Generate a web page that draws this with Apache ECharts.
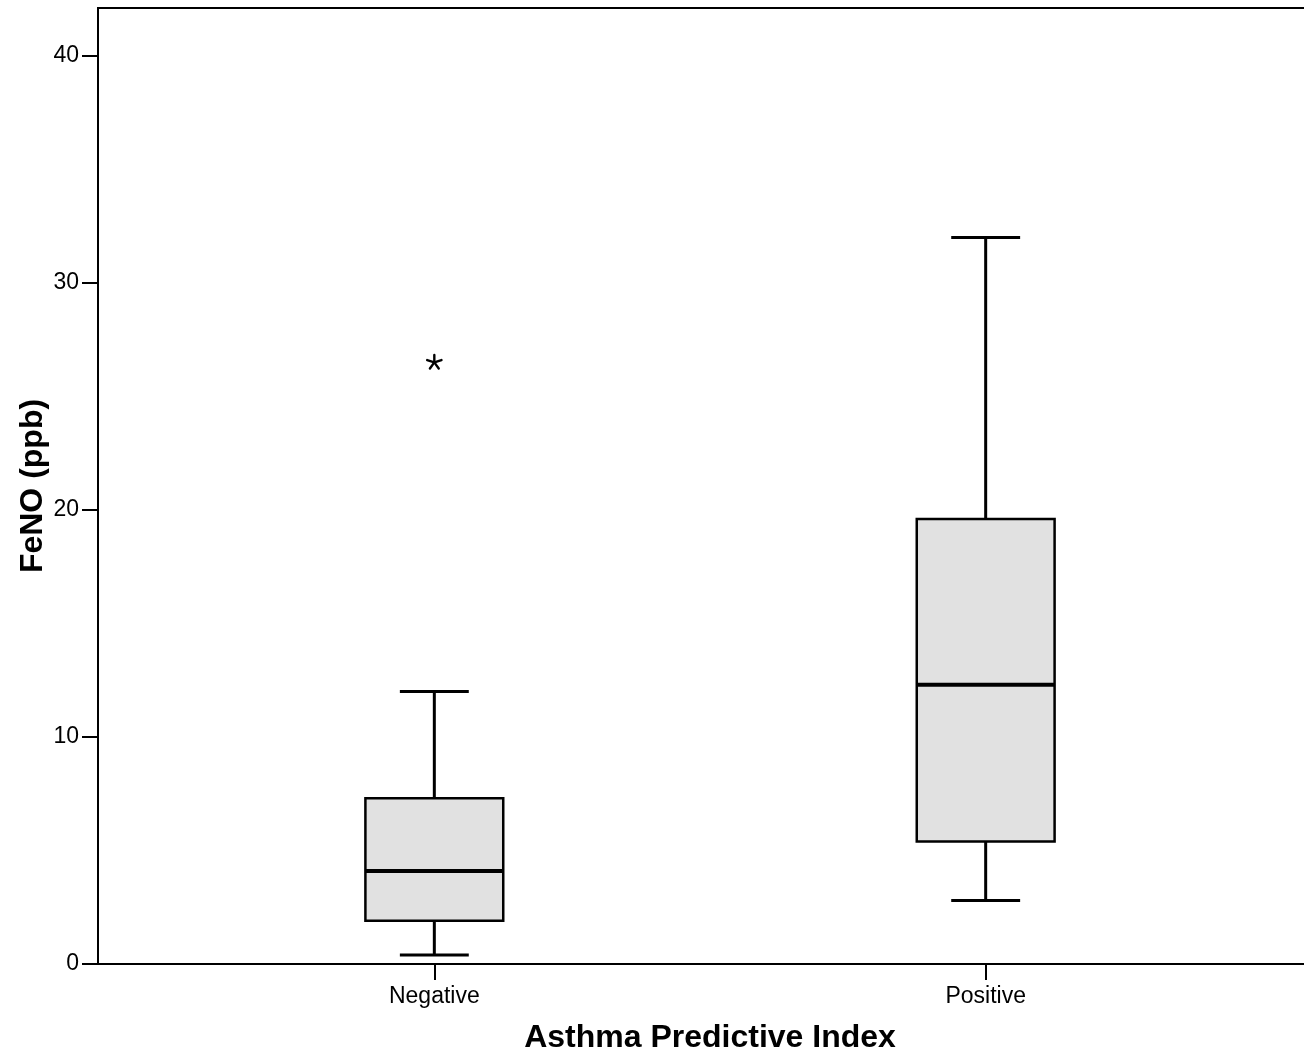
<!DOCTYPE html>
<html>
<head>
<meta charset="utf-8">
<title>FeNO by Asthma Predictive Index</title>
<script src="https://cdn.jsdelivr.net/npm/echarts@6/dist/echarts.min.js"></script>
<style>
  html, body { margin: 0; padding: 0; background: #ffffff; }
  #chart { width: 1304px; height: 1051px; }
</style>
</head>
<body>
<div id="chart"></div>
<script>
// Groups on the horizontal axis
const categories = ['Negative', 'Positive'];

// Box-and-whisker summary per group (FeNO, ppb)
const lowWhisker  = [0.4, 2.8];
const q1          = [1.9, 5.4];
const median      = [4.1, 12.3];
const q3          = [7.3, 19.6];
const highWhisker = [12.0, 32.0];

// Extreme values: [group index, value]
const extremes = [[0, 26.5]];

// Y-axis tick values
const yTicks = [0, 10, 20, 30, 40];

const boxData = categories.map((c, i) => [i, lowWhisker[i], q1[i], median[i], q3[i], highWhisker[i]]);

const BOX_W = 0.25;   // box width in axis units
const CAP_W = 0.125;  // whisker cap width in axis units
const FONT = 'Liberation Sans, Arial, sans-serif';

function renderBox(params, api) {
  const x = api.value(0);
  const pLow = api.coord([x, api.value(1)]);
  const pQ1 = api.coord([x, api.value(2)]);
  const pMed = api.coord([x, api.value(3)]);
  const pQ3 = api.coord([x, api.value(4)]);
  const pHigh = api.coord([x, api.value(5)]);
  const halfBox = api.size([BOX_W, 0])[0] / 2;
  const halfCap = api.size([CAP_W, 0])[0] / 2;
  const cx = pMed[0];
  const line = (x1, y1, x2, y2, w) => ({
    type: 'line',
    shape: { x1, y1, x2, y2 },
    style: { stroke: '#000', lineWidth: w }
  });
  return {
    type: 'group',
    children: [
      line(cx, pHigh[1], cx, pQ3[1], 3),
      line(cx - halfCap, pHigh[1], cx + halfCap, pHigh[1], 3),
      line(cx, pQ1[1], cx, pLow[1], 3),
      line(cx - halfCap, pLow[1], cx + halfCap, pLow[1], 3),
      {
        type: 'rect',
        shape: { x: cx - halfBox, y: pQ3[1], width: halfBox * 2, height: pQ1[1] - pQ3[1] },
        style: { fill: '#e1e1e1', stroke: '#000', lineWidth: 2.5 }
      },
      line(cx - halfBox, pMed[1], cx + halfBox, pMed[1], 4)
    ]
  };
}

function renderAsterisk(params, api) {
  const p = api.coord([api.value(0), api.value(1)]);
  const r = 7.5;
  const children = [];
  for (let k = 0; k < 5; k++) {
    const a = (-90 + k * 72) * Math.PI / 180;
    children.push({
      type: 'line',
      shape: { x1: p[0], y1: p[1], x2: p[0] + r * Math.cos(a), y2: p[1] + r * Math.sin(a) },
      style: { stroke: '#000', lineWidth: 2.4, lineCap: 'round' }
    });
  }
  return { type: 'group', children };
}

const chart = echarts.init(document.getElementById('chart'), null, { renderer: 'canvas' });

chart.setOption({
  animation: false,
  backgroundColor: '#ffffff',
  grid: {
    left: 98, top: 8, width: 1224, height: 956,
    outerBoundsMode: 'none',
    containLabel: false,
    show: true, borderColor: '#000', borderWidth: 2, backgroundColor: 'transparent'
  },
  xAxis: {
    type: 'value',
    min: -0.61,
    max: 1.61,
    name: 'Asthma Predictive Index',
    nameLocation: 'middle',
    nameGap: 58,
    nameTextStyle: { fontFamily: FONT, fontWeight: 'bold', fontSize: 32, color: '#000' },
    axisLine: { show: true, onZero: false, lineStyle: { color: '#000', width: 2 } },
    axisTick: { show: true, customValues: [0, 1], length: 16, inside: false, lineStyle: { color: '#000', width: 2 } },
    axisLabel: {
      customValues: [0, 1],
      formatter: v => categories[Math.round(v)],
      margin: 21,
      fontFamily: FONT,
      fontSize: 23,
      color: '#000'
    },
    splitLine: { show: false }
  },
  yAxis: {
    type: 'value',
    min: 0,
    max: 42.11,
    name: 'FeNO (ppb)',
    nameLocation: 'middle',
    nameGap: 49,
    nameMoveOverlap: false,
    nameTextStyle: { fontFamily: FONT, fontWeight: 'bold', fontSize: 32, color: '#000' },
    axisLine: { show: true, onZero: false, lineStyle: { color: '#000', width: 2 } },
    axisTick: { show: true, customValues: yTicks, length: 16, lineStyle: { color: '#000', width: 2 } },
    axisLabel: {
      customValues: yTicks,
      margin: 19,
      fontFamily: FONT,
      fontSize: 23,
      color: '#000'
    },
    splitLine: { show: false }
  },
  series: [
    {
      type: 'custom',
      name: 'FeNO',
      renderItem: renderBox,
      encode: { x: 0, y: [1, 2, 3, 4, 5] },
      data: boxData,
      clip: false
    },
    {
      type: 'custom',
      name: 'Extremes',
      renderItem: renderAsterisk,
      encode: { x: 0, y: 1 },
      data: extremes
    }
  ]
});
</script>
</body>
</html>
